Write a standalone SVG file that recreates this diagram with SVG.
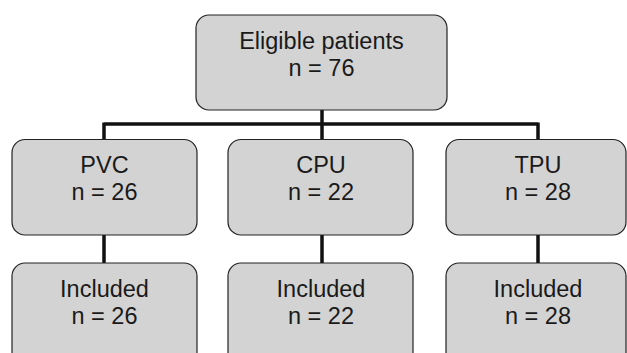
<svg xmlns="http://www.w3.org/2000/svg" width="627" height="353" viewBox="0 0 627 353">
<style>
.box{fill:#d3d3d3;stroke:#222;stroke-width:1.2}
.t{font-family:"Liberation Sans",Arial,sans-serif;font-size:23.5px;fill:#1a1a1a;text-anchor:middle}
.c{stroke:#111;fill:none;stroke-width:3.5}
</style>
<rect width="627" height="353" fill="#fff"/>
<g id="connectors">
<path class="c" d="M322 110V139M104 124H538M104 122.5V140M538 122.5V140"/>
<path class="c" d="M104 235V263M322 235V263M538 235V263" stroke-width="3"/>
</g>
<g id="eligible"><rect class="box" x="196" y="15" width="251" height="95" rx="13"/><text class="t" x="321.5" y="49">Eligible patients</text><text class="t" x="321.5" y="76">n = 76</text></g>
<g id="pvc"><rect class="box" x="12" y="139.5" width="185" height="95.5" rx="13"/><text class="t" x="104.5" y="172.5">PVC</text><text class="t" x="104.5" y="200">n = 26</text></g>
<g id="cpu"><rect class="box" x="228" y="139.5" width="185" height="95.5" rx="13"/><text class="t" x="321" y="172.5">CPU</text><text class="t" x="321" y="200">n = 22</text></g>
<g id="tpu"><rect class="box" x="446" y="139.5" width="180" height="95.5" rx="13"/><text class="t" x="538" y="172.5">TPU</text><text class="t" x="538" y="200">n = 28</text></g>
<g id="inc-pvc"><rect class="box" x="12" y="263" width="185" height="110" rx="13"/><text class="t" x="104.5" y="296.5">Included</text><text class="t" x="104.5" y="323.5">n = 26</text></g>
<g id="inc-cpu"><rect class="box" x="228" y="263" width="185" height="110" rx="13"/><text class="t" x="321" y="296.5">Included</text><text class="t" x="321" y="323.5">n = 22</text></g>
<g id="inc-tpu"><rect class="box" x="446" y="263" width="180" height="110" rx="13"/><text class="t" x="538" y="296.5">Included</text><text class="t" x="538" y="323.5">n = 28</text></g>
</svg>
